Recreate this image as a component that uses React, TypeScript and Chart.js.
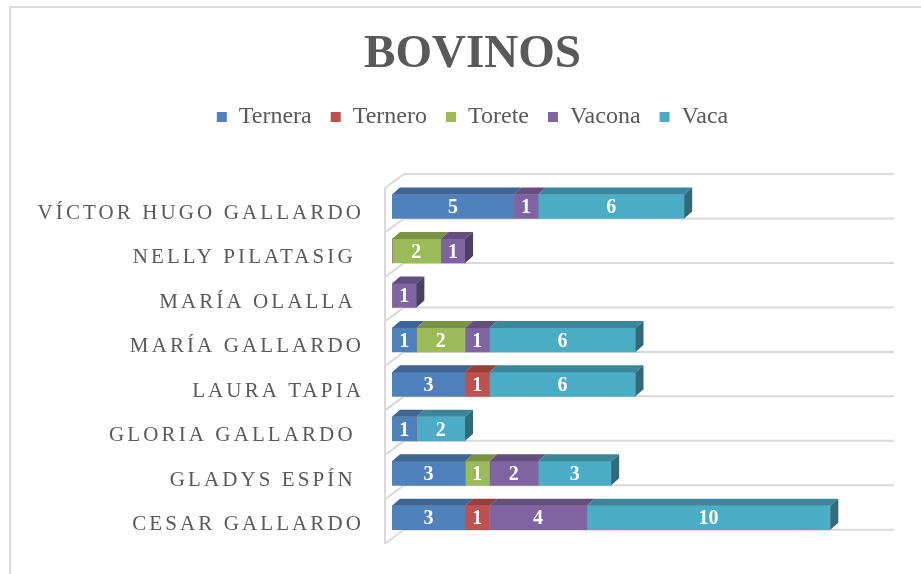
import React, { useEffect, useRef } from 'react';
import { Chart, registerables } from 'chart.js';

Chart.register(...registerables);

const chartTitle = 'BOVINOS';
const categories = [
  'VÍCTOR HUGO GALLARDO',
  'NELLY PILATASIG ',
  'MARÍA OLALLA ',
  'MARÍA GALLARDO',
  'LAURA TAPIA',
  'GLORIA GALLARDO ',
  'GLADYS ESPÍN ',
  'CESAR GALLARDO',
];
const seriesNames = ['Ternera', 'Ternero', 'Torete', 'Vacona', 'Vaca'];
const ternera = [5, 0, 0, 1, 3, 1, 3, 3];
const ternero = [0, 0, 0, 0, 1, 0, 0, 1];
const torete = [0, 2, 0, 2, 0, 0, 1, 0];
const vacona = [1, 1, 1, 1, 0, 0, 2, 4];
const vaca = [6, 0, 0, 6, 6, 2, 3, 10];
const seriesValues = [ternera, ternero, torete, vacona, vaca];
const seriesColors = ['#4F81BD', '#C0504D', '#9BBB59', '#8064A2', '#4BACC6'];
const axisMax = 20;

const SERIF = "'Liberation Serif', 'Times New Roman', serif";
const TEXT = '#595959';
const LINE = '#d9d9d9';
const DX = 8;
const DY = 7;
const PAD_LEFT = 66;

function shade(hex: string, f: number): string {
  const n = parseInt(hex.slice(1), 16);
  const r = Math.round(((n >> 16) & 255) * f);
  const g = Math.round(((n >> 8) & 255) * f);
  const b = Math.round((n & 255) * f);
  return `rgb(${r},${g},${b})`;
}

const threeD = {
  id: 'threeD',
  afterLayout(chart: any) {
    // let the long category labels extend left of the padded area without clipping
    if (chart.scales.y) chart.scales.y.left = 0;
  },
  beforeDraw(chart: any) {
    const { ctx } = chart;
    ctx.save();
    ctx.fillStyle = '#ffffff';
    ctx.fillRect(0, 0, chart.width, chart.height);
    ctx.strokeStyle = LINE;
    ctx.lineWidth = 2;
    ctx.strokeRect(10, 7, chart.width + 100, chart.height + 100);
    ctx.restore();
  },
  beforeDatasetsDraw(chart: any) {
    const { ctx } = chart;
    const xs = chart.scales.x;
    const bars = chart.getDatasetMeta(0).data;
    const bottoms = bars.map((b: any) => b.y + b.height / 2);
    const band = bottoms.length > 1 ? bottoms[1] - bottoms[0] : 44;
    const lines = [bottoms[0] - band, ...bottoms];
    const x0 = xs.getPixelForValue(0);
    const xEnd = xs.getPixelForValue(axisMax);
    const back = x0 + 12;
    const front = x0 - 7;
    const depth = 14;
    ctx.save();
    ctx.strokeStyle = LINE;
    ctx.lineWidth = 2;
    ctx.beginPath();
    lines.forEach((y: number) => {
      ctx.moveTo(front, y + depth);
      ctx.lineTo(back, y);
      ctx.lineTo(xEnd + 15, y);
    });
    ctx.moveTo(front, lines[0] + depth);
    ctx.lineTo(front, lines[lines.length - 1] + depth);
    ctx.stroke();
    ctx.restore();
  },
  afterDatasetsDraw(chart: any) {
    const { ctx } = chart;
    ctx.save();
    const n = categories.length;
    seriesValues.forEach((vals, di) => {
      const meta = chart.getDatasetMeta(di);
      meta.data.forEach((b: any, i: number) => {
        if (!vals[i]) return;
        const left = Math.min(b.base, b.x);
        const right = Math.max(b.base, b.x);
        const top = b.y - b.height / 2;
        ctx.fillStyle = shade(seriesColors[di], 0.78);
        ctx.beginPath();
        ctx.moveTo(left, top);
        ctx.lineTo(right, top);
        ctx.lineTo(right + DX, top - DY);
        ctx.lineTo(left + DX, top - DY);
        ctx.closePath();
        ctx.fill();
      });
    });
    for (let i = 0; i < n; i++) {
      let last = -1;
      seriesValues.forEach((vals, di) => { if (vals[i]) last = di; });
      if (last < 0) continue;
      const b: any = chart.getDatasetMeta(last).data[i];
      const right = Math.max(b.base, b.x);
      const top = b.y - b.height / 2;
      const bottom = b.y + b.height / 2;
      ctx.fillStyle = shade(seriesColors[last], 0.62);
      ctx.beginPath();
      ctx.moveTo(right, top);
      ctx.lineTo(right + DX, top - DY);
      ctx.lineTo(right + DX, bottom - DY);
      ctx.lineTo(right, bottom);
      ctx.closePath();
      ctx.fill();
    }
    ctx.fillStyle = '#ffffff';
    ctx.font = `bold 20px ${SERIF}`;
    ctx.textAlign = 'center';
    ctx.textBaseline = 'middle';
    seriesValues.forEach((vals, di) => {
      const meta = chart.getDatasetMeta(di);
      meta.data.forEach((b: any, i: number) => {
        if (!vals[i]) return;
        ctx.fillText(String(vals[i]), (b.base + b.x) / 2, b.y + 1.5);
      });
    });
    ctx.restore();
    ctx.letterSpacing = '3.1px';
  },
  afterDraw(chart: any) {
    chart.ctx.letterSpacing = '0px';
  },
};

export default function App() {
  const ref = useRef<HTMLCanvasElement>(null);
  useEffect(() => {
    if (!ref.current) return;
    const chart = new Chart(ref.current, {
      type: 'bar',
      data: {
        labels: categories,
        datasets: seriesNames.map((name, i) => ({
          label: name,
          data: seriesValues[i],
          backgroundColor: seriesColors[i],
          borderWidth: 0,
          barThickness: 24,
        })),
      },
      plugins: [threeD],
      options: {
        indexAxis: 'y',
        animation: false,
        responsive: false,
        devicePixelRatio: 1,
        layout: { padding: { left: PAD_LEFT, right: 42, top: 0, bottom: 34 } },
        scales: {
          x: {
            stacked: true,
            min: 0,
            max: axisMax,
            position: 'top',
            display: true,
            grid: { display: false },
            border: { display: false },
            ticks: { display: false },
            afterFit: (s: any) => { s.height = 45.25; },
          },
          y: {
            stacked: true,
            grid: { display: false },
            border: { display: false },
            ticks: {
              z: 1,
              color: TEXT,
              font: { family: SERIF, size: 21 },
              padding: 20,
              labelOffset: 7,
            },
            afterFit: (s: any) => { s.width = 392 - PAD_LEFT; },
          },
        },
        plugins: {
          title: {
            display: true,
            text: chartTitle,
            color: TEXT,
            font: { family: SERIF, size: 47, weight: 'bold', lineHeight: 1.2 },
            padding: { top: 26.3, bottom: 3.3 },
          },
          legend: {
            display: true,
            position: 'top',
            labels: {
              color: TEXT,
              font: { family: SERIF, size: 24 },
              boxWidth: 10,
              boxHeight: 10,
              padding: 19,
            },
          },
          tooltip: { enabled: false },
        },
      },
    });
    return () => chart.destroy();
  }, []);
  return (
    <div style={{ position: 'fixed', left: 0, top: 0, width: 921, height: 574, background: '#fff' }}>
      <canvas ref={ref} width={921} height={574} style={{ display: 'block' }} />
    </div>
  );
}
